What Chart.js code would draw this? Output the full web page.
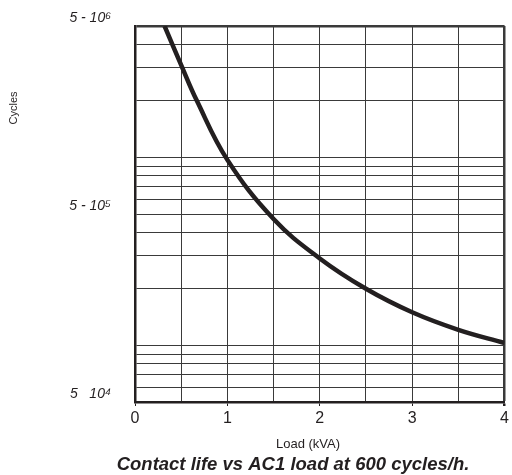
<!DOCTYPE html>
<html>
<head>
<meta charset="utf-8">
<script src="https://cdn.jsdelivr.net/npm/chart.js@4"></script>
<style>
  html, body { margin: 0; padding: 0; background: #fff; }
  #wrap { width: 512px; height: 475px; position: relative; }
</style>
</head>
<body>
<div id="wrap"><canvas id="c" width="512" height="475"></canvas></div>
<script>
// ---- data ----
const loadKVA = [0.32, 0.5, 0.67, 1.0, 1.5, 2.0, 2.5, 3.0, 3.5, 4.0];
const cycles  = [5.0e6, 3.1e6, 2.0e6, 9.7e5, 4.7e5, 2.9e5, 2.0e5, 1.5e5, 1.21e5, 1.03e5];
const yGridValues = [5e4, 6e4, 7e4, 8e4, 9e4, 1e5, 2e5, 3e5, 4e5, 5e5, 6e5, 7e5, 8e5, 9e5, 1e6, 2e6, 3e6, 4e6, 5e6];
const yTickValues = [5e4, 5e5, 5e6];
const yTickLabels = ['5   10\u2074', '5 - 10\u2075', '5 - 10\u2076'];
const xTickLabels = ['0', '1', '2', '3', '4'];
const yTitle = 'Cycles';
const xTitle = 'Load (kVA)';
const caption = 'Contact life vs AC1 load at 600 cycles/h.';

const INK = '#231f20';
const GRID = '#3a3a3a';

const textPlugin = {
  id: 'texts',
  afterDraw(chart) {
    const ctx = chart.ctx;
    ctx.save();
    ctx.fillStyle = INK;
    ctx.textAlign = 'center';
    ctx.textBaseline = 'middle';
    ctx.font = '11px "Liberation Sans", Arial, sans-serif';
    ctx.save();
    ctx.translate(14, 108);
    ctx.rotate(-Math.PI / 2);
    ctx.fillText(yTitle, 0, 0);
    ctx.restore();
    ctx.font = '13px "Liberation Sans", Arial, sans-serif';
    ctx.fillText(xTitle, 308, 444);
    ctx.font = 'italic bold 18.5px "Liberation Sans", Arial, sans-serif';
    ctx.fillText(caption, 293, 465);
    ctx.restore();
  }
};

new Chart(document.getElementById('c'), {
  type: 'line',
  data: {
    datasets: [{
      data: loadKVA.map((x, i) => ({ x: x, y: cycles[i] })),
      borderColor: INK,
      borderWidth: 4.5,
      pointRadius: 0,
      tension: 0.4,
      fill: false
    }]
  },
  options: {
    responsive: false,
    animation: false,
    events: [],
    layout: { padding: { top: 26, right: 6, left: 0, bottom: 0 } },
    plugins: { legend: { display: false }, tooltip: { enabled: false }, title: { display: false } },
    scales: {
      x: {
        type: 'linear',
        min: 0, max: 4,
        afterFit(scale) { scale.height = 73; },
        afterBuildTicks(scale) {
          const t = [];
          for (let v = 0; v <= 4.0001; v += 0.5) t.push({ value: Math.round(v * 2) / 2 });
          scale.ticks = t;
        },
        border: { display: true, color: INK, width: 2.5 },
        grid: {
          color: GRID,
          lineWidth: (c) => (c.tick && c.tick.value === 4 ? 2.5 : 1),
          drawTicks: true,
          tickLength: 4,
          tickColor: (c) => (c.tick && Number.isInteger(c.tick.value) ? INK : 'rgba(0,0,0,0)')
        },
        ticks: {
          autoSkip: false,
          maxRotation: 0,
          padding: 3,
          color: INK,
          font: { family: '"Liberation Sans", Arial, sans-serif', size: 16 },
          callback: (v) => (Number.isInteger(v) ? xTickLabels[v] : '')
        }
      },
      y: {
        type: 'logarithmic',
        min: 5e4, max: 5e6,
        afterFit(scale) { scale.width = 135; },
        afterBuildTicks(scale) { scale.ticks = yGridValues.map(v => ({ value: v })); },
        border: { display: true, color: INK, width: 2.5 },
        grid: {
          color: GRID,
          lineWidth: (c) => (c.tick && c.tick.value === 5e6 ? 2.5 : 1),
          drawTicks: true,
          tickLength: 24,
          tickColor: 'rgba(0,0,0,0)'
        },
        ticks: {
          autoSkip: false,
          padding: 0,
          labelOffset: -8,
          color: INK,
          font: { family: '"Liberation Sans", Arial, sans-serif', size: 14, style: 'italic' },
          callback: (v) => {
            const i = yTickValues.indexOf(v);
            return i >= 0 ? yTickLabels[i] : '';
          }
        }
      }
    }
  },
  plugins: [textPlugin]
});
</script>
</body>
</html>
